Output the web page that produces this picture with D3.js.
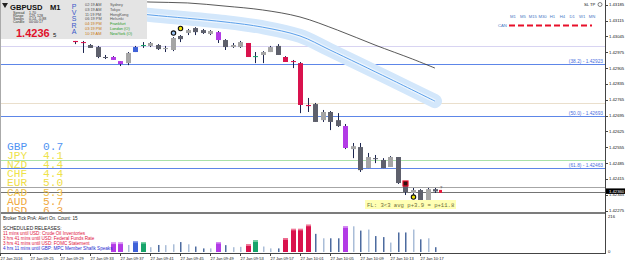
<!DOCTYPE html>
<html>
<head>
  <meta charset="utf-8">
  <title>GBPUSD M1</title>
  <script src="https://d3js.org/d3.v7.min.js"></script>
  <style>
    body { margin: 0; background: #fff; }
    svg { display: block; }
    text { font-family: 'Liberation Sans', Arial, sans-serif; }
    .mono { font-family: 'Liberation Mono', 'DejaVu Sans Mono', monospace; }
  </style>
</head>
<body>
<div id="chart"></div>
<script>
// one bar per minute
var times = ['09:21','09:22','09:23','09:24','09:25','09:26','09:27','09:28','09:29','09:30',
  '09:31','09:32','09:33','09:34','09:35','09:36','09:37','09:38','09:39','09:40',
  '09:41','09:42','09:43','09:44','09:45','09:46','09:47','09:48','09:49','09:50',
  '09:51','09:52','09:53','09:54','09:55','09:56','09:57','09:58','09:59','10:00',
  '10:01','10:02','10:03','10:04','10:05','10:06','10:07','10:08','10:09','10:10',
  '10:11','10:12','10:13','10:14','10:15','10:16','10:17','10:18','10:19'];

var opens = [1.43100,1.43082,1.43091,1.43073,1.43060,1.43078,1.43064,1.43051,1.43060,1.43047,
  1.43025,1.43020,1.43007,1.42998,1.42954,1.42954,1.42936,1.42927,1.42976,1.43007,
  1.43003,1.43007,1.42989,1.42985,1.43047,1.43060,1.43082,1.43073,1.43056,1.43064,
  1.43029,1.42998,1.42998,1.43016,1.42958,1.42963,1.42976,1.43003,1.42954,1.42936,
  1.42927,1.42742,1.42746,1.42675,1.42711,1.42675,1.42649,1.42547,1.42556,1.42463,
  1.42507,1.42499,1.42468,1.42512,1.42388,1.42353,1.42366,1.42322,1.42370];
var highs = [1.43109,1.43095,1.43100,1.43082,1.43082,1.43086,1.43069,1.43069,1.43064,1.43051,
  1.43025,1.43025,1.43011,1.43003,1.42963,1.42958,1.42936,1.42976,1.43003,1.43020,
  1.43020,1.43011,1.43003,1.43042,1.43051,1.43078,1.43086,1.43078,1.43073,1.43069,
  1.43033,1.43016,1.43025,1.43016,1.42976,1.42980,1.43003,1.43011,1.42958,1.42941,
  1.42932,1.42773,1.42751,1.42720,1.42715,1.42706,1.42658,1.42574,1.42574,1.42530,
  1.42521,1.42507,1.42516,1.42512,1.42393,1.42375,1.42370,1.42375,1.42375];
var lows = [1.43073,1.43073,1.43069,1.43056,1.43056,1.43060,1.43047,1.43047,1.43042,1.43038,
  1.43011,1.42972,1.42994,1.42949,1.42945,1.42941,1.42914,1.42918,1.42976,1.42994,
  1.42998,1.42985,1.42976,1.42980,1.43020,1.43051,1.43051,1.43056,1.43051,1.43016,
  1.42985,1.42994,1.42994,1.42954,1.42927,1.42927,1.42976,1.42963,1.42932,1.42905,
  1.42706,1.42711,1.42667,1.42667,1.42631,1.42645,1.42547,1.42507,1.42446,1.42463,
  1.42485,1.42463,1.42468,1.42393,1.42344,1.42344,1.42317,1.42317,1.42353];
var closes = [1.43082,1.43091,1.43073,1.43060,1.43078,1.43064,1.43051,1.43060,1.43047,1.43038,
  1.43020,1.43016,1.42994,1.42954,1.42953,1.42941,1.42923,1.42972,1.42998,1.43007,
  1.43016,1.42989,1.42994,1.43038,1.43033,1.43073,1.43064,1.43060,1.43069,1.43029,
  1.42998,1.43007,1.43020,1.42954,1.42958,1.42976,1.42998,1.42963,1.42932,1.42932,
  1.42742,1.42737,1.42667,1.42711,1.42667,1.42649,1.42552,1.42560,1.42454,1.42512,
  1.42503,1.42463,1.42512,1.42397,1.42357,1.42366,1.42322,1.42370,1.42360];
var kinds = ['dn','up','dn','dn','up','dn','dn','up','dn','dn',
  'red','red','dn','dn','dn','purple','purple','up','blue','green',
  'up','dn','up','up','dn','up','dn','dn','up','purple',
  'dn','up','up','red','green','up','up','dn','red','red',
  'red','red','dn','up','dn','dn','purple','up','dn','up',
  'dn','dn','up','dn','dn','up','dn','up','dn'];
// histogram only drawn for the last bars
var volumes = [null,null,null,null,null,null,null,null,null,null,null,null,null,null,null,
  55,55,41,64,58,
  28,41,40,45,58,45,32,21,21,58,
  40,28,30,44,68,32,21,21,80,135,
  135,159,106,80,80,80,150,150,125,131,
  93,87,55,114,114,131,74,80,28];

// smoothed channel (centre) and slow average
var channelTimes = ['09:21','09:31','09:36','09:41','09:51','09:56','10:01','10:05','10:13','10:19'];
var channelPrices = [1.43193,1.43170,1.43157,1.43140,1.43109,1.43086,1.43047,1.42985,1.42857,1.42759];
var maTimes = ['09:36','09:41','09:46','09:51','09:56','10:01','10:06','10:11','10:16','10:19'];
var maPrices = [1.43206,1.43197,1.43193,1.43179,1.43162,1.43131,1.43073,1.43007,1.42945,1.42905];

var levelPrices = [1.43003,1.42923,1.42751,1.42693,1.42499,1.42463,1.42379,1.42357];
var levelColors = ['#d8d4f2','#5d86e8','#eadfcc','#5d86e8','#a9e2a9','#5d86e8','#a6a6a6','#747474'];
var fibPrices = [1.42923,1.42693,1.42463];
var fibLabels = ['(38.2) - 1.42923','(50.0) - 1.42693','(61.8) - 1.42463'];

var markerTimes = ['09:44','09:45','10:15','10:16'];
var markerPrices = [1.43060,1.43080,1.42395,1.42335];
var markerTypes = ['blue','yellow','square','yellow'];

var priceTicks = [1.43185,1.43115,1.43045,1.42975,1.42905,1.42835,1.42765,1.42695,
  1.42625,1.42555,1.42485,1.42415,1.42345,1.42275];
var lastPrice = 1.42360;
var timeTicks = ['09:21','09:25','09:29','09:33','09:37','09:41','09:45','09:49','09:53',
  '09:57','10:01','10:05','10:09','10:13','10:17'];
var timeLabels = ['27 Jan 2016','27 Jan 09:25','27 Jan 09:29','27 Jan 09:33','27 Jan 09:37',
  '27 Jan 09:41','27 Jan 09:45','27 Jan 09:49','27 Jan 09:53','27 Jan 09:57','27 Jan 10:01',
  '27 Jan 10:05','27 Jan 10:09','27 Jan 10:13','27 Jan 10:17'];

var currencies = ['GBP','JPY','NZD','CHF','EUR','CAD','AUD','USD'];
var strengths = [0.7,4.1,4.4,4.4,5.0,5.3,5.7,6.3];
var strengthColors = ['#5094f2','#eee24a','#eee24a','#eee24a','#efdd4a','#f0bf48','#f0a940','#f0a23a'];

var infoLabels = ['Spread','Range','Swaps','Candle'];
var infoValues = ['1.70','129, 128','0.14, -0.88','00:00:17'];
var sessionTimes = ['02:19 AM','03:19 AM','11:19 PM','06:19 PM','04:19 PM','03:19 PM','10:19 AM'];
var sessionCities = ['Sydney','Tokyo','HongKong','Helsinki','Frankfurt','London (O)','NewYork (O)'];
var sessionOpen = [false,false,false,false,true,true,true];

var tfLabels = ['M1','M5','M15','M30','H1','H4','D1','W1','MN'];

var newsLines = ['11 mins until USD: Crude Oil Inventories','3 hrs 41 mins until USD: Federal Funds Rate',
  '3 hrs 41 mins until USD: FOMC Statement','4 hrs 11 mins until GBP: MPC Member Shafik Speaks'];
var newsColors = ['#e0143c','#e0143c','#e0143c','#2a2ad0'];

var candleColor = {up: '#a5a5a5', dn: '#5e606c', red: '#d9124d', purple: '#b33be6', green: '#17a46a', blue: '#4062d8'};
var volColor = {up: '#aabdd8', dn: '#4d6b9f', red: '#d9124d', purple: '#b33be6', green: '#17a46a', blue: '#4062d8'};
var volLight = {red: '#f07898', purple: '#d890f4', green: '#7cd4a8', blue: '#90a0ee'};

var W = 625, H = 262,
    plotRight = 605,
    mainBottom = 212,
    volBottom = 253;

var x = d3.scalePoint().domain(times).range([0, 435]);
var y = d3.scaleLinear().domain([1.42269, 1.43206]).range([mainBottom, 0]);
var yv = d3.scaleLinear().domain([0, 216]).range([252, 215]);

function px(t) { return Math.round(x(t)); }

var svg = d3.select('#chart').append('svg')
    .attr('width', W)
    .attr('height', H);

svg.append('defs').append('clipPath')
    .attr('id', 'mainClip')
  .append('rect')
    .attr('width', plotRight)
    .attr('height', mainBottom);

var main = svg.append('g').attr('clip-path', 'url(#mainClip)');

// horizontal levels
main.selectAll('line.level')
    .data(levelPrices)
  .enter().append('line')
    .attr('x1', 0).attr('x2', plotRight)
    .attr('y1', function(d) { return Math.round(y(d)) + 0.5; })
    .attr('y2', function(d) { return Math.round(y(d)) + 0.5; })
    .attr('stroke', function(d, i) { return levelColors[i]; });

// channel band
var channel = channelTimes.map(function(t, i) { return [x(t), y(channelPrices[i])]; });
var smooth = d3.line().curve(d3.curveCatmullRom);
main.append('path').attr('d', smooth(channel))
    .attr('fill', 'none').attr('stroke', '#d3e7fb').attr('stroke-width', 14)
    .attr('stroke-linecap', 'round');
main.append('path').attr('d', smooth(channel))
    .attr('fill', 'none').attr('stroke', '#edf5fd').attr('stroke-width', 3.5);
main.append('path').attr('d', smooth(channel))
    .attr('fill', 'none').attr('stroke', '#4a95e8').attr('stroke-width', 0.9);

var ma = maTimes.map(function(t, i) { return [x(t), y(maPrices[i])]; });
main.append('path').attr('d', smooth(ma))
    .attr('fill', 'none').attr('stroke', '#2e2e2e').attr('stroke-width', 0.8);

// candles
var candles = times.map(function(t, i) {
  return {t: t, o: opens[i], h: highs[i], l: lows[i], c: closes[i], k: kinds[i], v: volumes[i]};
});

main.selectAll('line.wick')
    .data(candles)
  .enter().append('line')
    .attr('x1', function(d) { return px(d.t) + 0.5; })
    .attr('x2', function(d) { return px(d.t) + 0.5; })
    .attr('y1', function(d) { return y(d.h); })
    .attr('y2', function(d) { return y(d.l); })
    .attr('stroke', '#1c2550')
    .attr('stroke-width', 1);

main.selectAll('rect.body')
    .data(candles)
  .enter().append('rect')
    .attr('x', function(d) { return px(d.t) - 2; })
    .attr('width', 5)
    .attr('y', function(d) { return Math.min(y(d.o), y(d.c)); })
    .attr('height', function(d) { return Math.max(1, Math.abs(y(d.o) - y(d.c))); })
    .attr('fill', function(d) { return candleColor[d.k]; });

// pivot markers
markerTypes.forEach(function(m, i) {
  var mx = px(markerTimes[i]) + 0.5, my = y(markerPrices[i]);
  if (m == 'square') {
    main.append('rect').attr('x', mx - 2.5).attr('y', my - 2.5).attr('width', 5).attr('height', 5)
        .attr('fill', '#301010').attr('stroke', '#e8102c').attr('stroke-width', 1.2);
  } else {
    main.append('circle').attr('cx', mx).attr('cy', my).attr('r', 2.2)
        .attr('fill', m == 'blue' ? '#9cc4f4' : '#f2e600')
        .attr('stroke', '#111').attr('stroke-width', 1.1);
  }
});

// last price marker
main.append('rect')
    .attr('x', px(times[times.length - 1]) + 4).attr('y', y(lastPrice) - 1.5)
    .attr('width', 3).attr('height', 3).attr('fill', '#e8183c');
main.append('text')
    .attr('x', px(times[times.length - 1]) + 5).attr('y', y(lastPrice) - 2.5)
    .attr('font-size', 4).attr('fill', '#333').text('?');

// currency strength
main.selectAll('text.cur')
    .data(currencies)
  .enter().append('text')
    .attr('class', 'mono')
    .attr('x', 7)
    .attr('y', function(d, i) { return 149.5 + i * 9.2; })
    .attr('font-size', 11.2)
    .attr('fill', function(d, i) { return strengthColors[i]; })
    .text(function(d) { return d; });
main.selectAll('text.str')
    .data(strengths)
  .enter().append('text')
    .attr('class', 'mono')
    .attr('x', 43)
    .attr('y', function(d, i) { return 149.5 + i * 9.2; })
    .attr('font-size', 11.2)
    .attr('fill', function(d, i) { return strengthColors[i]; })
    .text(function(d) { return d.toFixed(1); });

// fib labels
main.selectAll('text.fib')
    .data(fibPrices)
  .enter().append('text')
    .attr('x', plotRight - 2)
    .attr('y', function(d) { return Math.round(y(d)) - 0.8; })
    .attr('text-anchor', 'end')
    .attr('font-size', 4.8)
    .attr('fill', '#4a6ee0')
    .text(function(d, i) { return fibLabels[i]; });

// FL label
main.append('rect').attr('x', 365).attr('y', 200).attr('width', 91).attr('height', 9).attr('fill', '#ffffb4');
main.append('text').attr('class', 'mono')
    .attr('x', 367).attr('y', 206.8).attr('font-size', 5.6).attr('fill', '#6c6c3a')
    .text('FL: 3<3 avg p+3.9 = p+11.8');

// timeframe legend, top right
var tfx = d3.scalePoint().domain(tfLabels).range([513, 592]);
svg.selectAll('text.tf')
    .data(tfLabels)
  .enter().append('text')
    .attr('x', function(d) { return tfx(d); })
    .attr('y', 17.5)
    .attr('text-anchor', 'middle')
    .attr('font-size', 4.2)
    .attr('fill', '#4677c4')
    .text(function(d) { return d; });
svg.append('text').attr('x', 498).attr('y', 27).attr('font-size', 4.2).attr('fill', '#4677c4').text('CAN');
svg.append('line').attr('x1', 509).attr('x2', 592).attr('y1', 25.5).attr('y2', 25.5)
    .attr('stroke', '#e8102a').attr('stroke-width', 2.2).attr('stroke-dasharray', '6,3');
svg.append('text').attr('x', 584).attr('y', 6).attr('font-size', 4.2).attr('fill', '#111').text('SL TP');
svg.append('circle').attr('cx', 600).attr('cy', 4.5).attr('r', 2).attr('fill', 'none').attr('stroke', '#333').attr('stroke-width', 0.6);

// info panel
var info = svg.append('g');
info.append('rect').attr('width', 147).attr('height', 39).attr('fill', '#e4e4e4');
info.append('path').attr('d', 'M2,3 L8,3 L5,8 Z').attr('fill', '#222');
info.append('text').attr('x', 10).attr('y', 9.5).attr('font-size', 7.6).attr('font-weight', 'bold')
    .attr('fill', '#111').text('GBPUSD');
info.append('text').attr('x', 50).attr('y', 9.5).attr('font-size', 7.6).attr('font-weight', 'bold')
    .attr('fill', '#111').text('M1');
info.selectAll('text.lbl')
    .data(infoLabels)
  .enter().append('text')
    .attr('x', 13).attr('y', function(d, i) { return 13.8 + i * 3; })
    .attr('font-size', 3.6).attr('fill', '#333')
    .text(function(d) { return d; });
info.selectAll('text.val')
    .data(infoValues)
  .enter().append('text')
    .attr('x', 29).attr('y', function(d, i) { return 13.8 + i * 3; })
    .attr('font-size', 3.6).attr('fill', '#333')
    .text(function(d) { return d; });
info.append('text').attr('x', 16).attr('y', 37).attr('font-size', 11).attr('font-weight', 'bold')
    .attr('fill', '#e0102a').text('1.4236');
info.append('text').attr('x', 53).attr('y', 37).attr('font-size', 6).attr('fill', '#111').text('5');
info.selectAll('text.pvsra')
    .data(['P','V','S','R','A'])
  .enter().append('text')
    .attr('x', 74).attr('y', function(d, i) { return 8.5 + i * 6.4; })
    .attr('text-anchor', 'middle')
    .attr('font-size', 7).attr('fill', '#3a58c8')
    .text(function(d) { return d; });
info.selectAll('text.stime')
    .data(sessionTimes)
  .enter().append('text')
    .attr('x', 85).attr('y', function(d, i) { return 6.3 + i * 4.7; })
    .attr('font-size', 3.9)
    .attr('fill', function(d, i) { return sessionOpen[i] ? '#c87810' : '#555'; })
    .text(function(d) { return d; });
info.selectAll('text.city')
    .data(sessionCities)
  .enter().append('text')
    .attr('x', 110).attr('y', function(d, i) { return 6.3 + i * 4.7; })
    .attr('font-size', 3.9)
    .attr('fill', function(d, i) { return sessionOpen[i] ? '#1e9a1e' : '#555'; })
    .text(function(d) { return d; });

// volume sub window
var vol = svg.append('g');
var volData = candles.filter(function(d) { return d.v != null; });
vol.selectAll('rect.vol')
    .data(volData)
  .enter().append('rect')
    .attr('x', function(d) { return volLight[d.k] ? px(d.t) - 2 : px(d.t); })
    .attr('width', function(d) { return volLight[d.k] ? 5 : 1.5; })
    .attr('y', function(d) { return yv(d.v); })
    .attr('height', function(d) { return yv(0) - yv(d.v); })
    .attr('fill', function(d) { return volColor[d.k]; });
vol.selectAll('rect.cap')
    .data(volData.filter(function(d) { return volLight[d.k]; }))
  .enter().append('rect')
    .attr('x', function(d) { return px(d.t) - 2; })
    .attr('width', 5)
    .attr('y', function(d) { return yv(d.v); })
    .attr('height', 1.5)
    .attr('fill', function(d) { return volLight[d.k]; });

vol.append('text').attr('x', 3).attr('y', 220).attr('font-size', 4.6).attr('fill', '#222')
    .text('Broker Tick PnA: Alert On. Count: 15');
vol.append('text').attr('x', 3).attr('y', 230).attr('font-size', 4.9).attr('fill', '#222')
    .text('SCHEDULED RELEASES:');
vol.selectAll('text.news')
    .data(newsLines)
  .enter().append('text')
    .attr('x', 3).attr('y', function(d, i) { return 235 + i * 5; })
    .attr('font-size', 4.6)
    .attr('fill', function(d, i) { return newsColors[i]; })
    .text(function(d) { return d; });

// frame
svg.append('rect').attr('x', 0).attr('y', mainBottom).attr('width', plotRight + 1).attr('height', 2).attr('fill', '#7c7c7c');
svg.append('line').attr('x1', plotRight + 0.5).attr('x2', plotRight + 0.5).attr('y1', 0).attr('y2', volBottom + 0.5)
    .attr('stroke', '#444');
svg.append('line').attr('x1', 0).attr('x2', plotRight + 1).attr('y1', volBottom + 0.5).attr('y2', volBottom + 0.5)
    .attr('stroke', '#444');
svg.append('line').attr('x1', 0.5).attr('x2', 0.5).attr('y1', 0).attr('y2', volBottom)
    .attr('stroke', '#aaa');

// price axis
var axis = svg.append('g');
axis.selectAll('line.ptick')
    .data(priceTicks)
  .enter().append('line')
    .attr('x1', plotRight).attr('x2', plotRight + 3)
    .attr('y1', function(d) { return Math.round(y(d)) + 0.5; })
    .attr('y2', function(d) { return Math.round(y(d)) + 0.5; })
    .attr('stroke', '#444');
axis.selectAll('text.ptick')
    .data(priceTicks)
  .enter().append('text')
    .attr('x', plotRight + 4)
    .attr('y', function(d) { return y(d) + 1.5; })
    .attr('font-size', 4.2).attr('fill', '#111')
    .text(function(d) { return d.toFixed(5); });
axis.append('rect').attr('x', plotRight + 1).attr('y', y(lastPrice) - 3).attr('width', 19).attr('height', 5.5).attr('fill', '#000');
axis.append('text').attr('x', plotRight + 4).attr('y', y(lastPrice) + 1.3)
    .attr('font-size', 4.2).attr('fill', '#fff').text(lastPrice.toFixed(5));
axis.append('text').attr('x', plotRight + 3).attr('y', yv(216) + 2.5).attr('font-size', 4.2).attr('fill', '#111').text('216');
axis.append('text').attr('x', plotRight + 3).attr('y', yv(0) + 0.5).attr('font-size', 4.2).attr('fill', '#111').text('0');

// time axis
axis.selectAll('line.ttick')
    .data(timeTicks)
  .enter().append('line')
    .attr('x1', function(d) { return px(d) + 0.5; })
    .attr('x2', function(d) { return px(d) + 0.5; })
    .attr('y1', volBottom).attr('y2', volBottom + 3)
    .attr('stroke', '#444');
axis.selectAll('text.ttick')
    .data(timeTicks)
  .enter().append('text')
    .attr('x', function(d) { return px(d) + 0.5; })
    .attr('y', 259.5)
    .attr('font-size', 4)
    .attr('fill', '#111')
    .text(function(d, i) { return timeLabels[i]; });
</script>
</body>
</html>
